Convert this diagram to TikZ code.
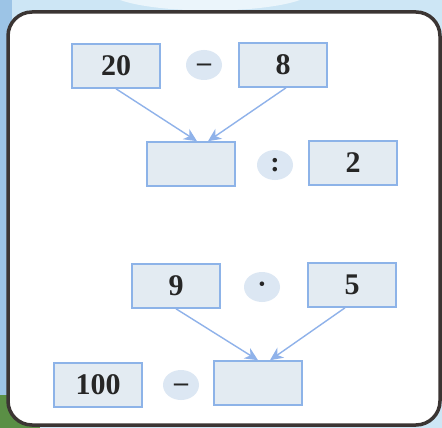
\documentclass[tikz,border=0pt]{standalone}
\usepackage{fontspec}
\setmainfont{Liberation Serif}
\usetikzlibrary{arrows.meta,shapes.geometric}

\definecolor{boxfill}{HTML}{E3EBF2}
\definecolor{boxline}{HTML}{8DB3E8}
\definecolor{arrowblue}{HTML}{8FB2EA}
\definecolor{opfill}{HTML}{DCE7F3}
\definecolor{framegray}{HTML}{3B3533}
\definecolor{sky}{HTML}{CDE6F5}
\definecolor{skyleft}{HTML}{9CC4E6}
\definecolor{grass}{HTML}{5A8F45}

\begin{document}
\begin{tikzpicture}[x=1pt,y=-1pt,
	numbox/.style={draw=boxline, line width=1.6pt, fill=boxfill, minimum width=88pt,
		minimum height=44pt, inner sep=0pt, text=black!85, font=\fontsize{30}{32}\selectfont\bfseries},
	opball/.style={ellipse, fill=opfill, minimum width=36pt, minimum height=30pt,
		inner sep=0pt, text height=13pt, text depth=0pt, text=black!85,
		font=\fontsize{28}{30}\selectfont\bfseries},
	link/.style={arrowblue, line width=1.4pt, -{Stealth[length=13pt,width=12pt,inset=4pt]}}]
	\useasboundingbox (0,0) rectangle (442,428);
	% background round the card
	\fill[sky] (0,0) rectangle (442,428);
	\fill[skyleft] (0,0) rectangle (12,428);
	\fill[white!60!sky] (120,0) .. controls (160,14) and (260,14) .. (300,0) -- cycle;
	\fill[grass] (0,395) rectangle (40,428);
	\draw[framegray, line width=3.5pt, fill=white, rounded corners=24pt] (8,12) rectangle (440,425);

		\node[numbox] (n20) at (116,66) {20};
		\node[opball] (minusA) at (204,65) {–};
		\node[numbox] (n8) at (283,65) {8};
		\node[numbox] (res1) at (191,164) {};
		\node[opball] (colon) at (275,165) {:};
		\node[numbox] (n2) at (353,163) {2};

		\node[numbox] (n9) at (176,286) {9};
		\node[opball] (dot) at (262,287) {·};
		\node[numbox] (n5) at (352,285) {5};
		\node[numbox] (n100) at (98,385) {100};
		\node[opball] (minusB) at (181,385) {–};
		\node[numbox] (res2) at (258,383) {};

		\draw[link] (n20.south) -- ([xshift=6pt]res1.north);
		\draw[link] ([xshift=3pt]n8.south) -- ([xshift=17pt]res1.north);
		\draw[link] (n9.south) -- ([xshift=0pt]res2.north);
		\draw[link] ([xshift=-7pt]n5.south) -- ([xshift=12pt]res2.north);
\end{tikzpicture}
\end{document}
